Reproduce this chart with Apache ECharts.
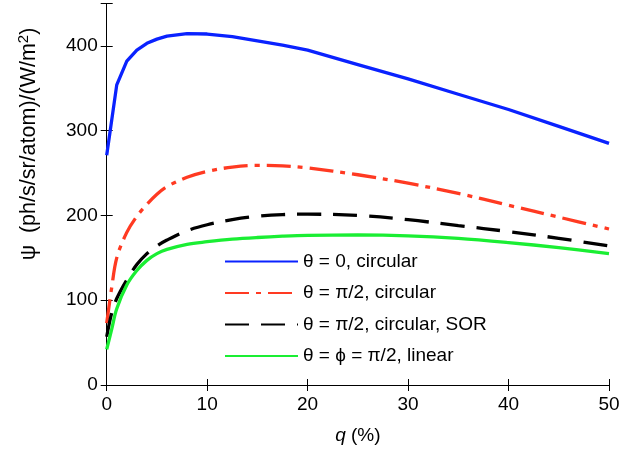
<!DOCTYPE html>
<html><head><meta charset="utf-8">
<script src="https://cdn.jsdelivr.net/npm/echarts@6/dist/echarts.min.js"></script>
<style>html,body{margin:0;padding:0;background:#fff}#c{width:642px;height:455px}</style>
</head><body><div id="c"></div>
<script>
const xTicks = [0, 10, 20, 30, 40, 50];
const yTicks = [0, 100, 200, 300, 400];
const seriesNames = ['θ = 0, circular', 'θ = π/2, circular', 'θ = π/2, circular, SOR', 'θ = ϕ = π/2, linear'];
const qBlue = [0, 1, 2, 3, 4, 5, 6, 8, 10, 12.5, 15, 17.5, 20, 25, 30, 35, 40, 45, 50];
const blueVals = [271, 354, 382, 395, 403, 408, 411.5, 414.5, 414, 411, 406, 401, 395, 378, 361, 343, 325, 305, 285];
const qOther = [0, 0.5, 1, 2, 3, 4, 5, 6, 8, 10, 12.5, 15, 17.5, 20, 25, 30, 35, 40, 45, 50];
const redVals = [73, 115, 150, 180, 199, 213, 225, 234, 245, 252, 257, 259, 258.5, 256, 248, 238, 226, 212, 198, 184];
const blackVals = [57, 85, 102, 124, 142, 155, 164, 171, 182, 189, 195, 199, 201, 201.5, 200, 195, 188, 181, 173, 164];
const greenVals = [42, 66, 90, 118, 135, 147, 155, 160, 166, 169, 172, 174, 175.5, 176.5, 177, 176, 173, 168, 162, 155];

const pair = (xs, ys) => xs.map((x, i) => [x, ys[i]]);
const font = 'Liberation Sans, Arial, Helvetica, sans-serif';
const chart = echarts.init(document.getElementById('c'));
const axisCommon = {
  axisLine: {show: true, lineStyle: {color: '#000', width: 1}},
  axisTick: {show: true, inside: true, length: 6, lineStyle: {color: '#000'}},
  splitLine: {show: false}
};
chart.setOption({
  animation: false,
  backgroundColor: '#fff',
  grid: {left: 106.7, right: 33, top: 3.5, bottom: 70},
  xAxis: [
    Object.assign({type: 'value', min: xTicks[0], max: xTicks[xTicks.length - 1], interval: 10, position: 'bottom',
      axisLabel: {color: '#000', fontSize: 19, fontFamily: font, margin: 10},
      name: '{i|q} (%)', nameLocation: 'middle', nameGap: 41,
      nameTextStyle: {color: '#000', fontSize: 19, fontFamily: font,
        rich: {i: {fontStyle: 'italic', fontSize: 19, fontFamily: font, color: '#000'}}}
    }, axisCommon),
    Object.assign({type: 'value', min: xTicks[0], max: xTicks[xTicks.length - 1], interval: 10, position: 'top',
      axisLabel: {show: false}}, axisCommon)
  ],
  yAxis: [
    Object.assign({type: 'value', min: yTicks[0], max: 450, interval: 100, position: 'left',
      axisLabel: {color: '#000', fontSize: 19, fontFamily: font, margin: 9,
        formatter: v => yTicks.includes(v) ? String(v) : ''}
    }, axisCommon),
    Object.assign({type: 'value', min: yTicks[0], max: 450, interval: 100, position: 'right',
      axisLabel: {show: false}}, axisCommon)
  ],
  legend: {
    show: true, orient: 'vertical', left: 219, top: 247,
    itemWidth: 73, itemHeight: 20, itemGap: 12.5,
    itemStyle: {opacity: 0},
    textStyle: {color: '#000', fontSize: 19, fontFamily: font},
    data: seriesNames
  },
  graphic: [{
    type: 'text', x: 29, y: 144, rotation: Math.PI / 2,
    style: {text: 'ψ  (ph/s/sr/atom)/(W/m{s|2})', fill: '#000', fontSize: 21.5, fontFamily: font,
      align: 'center', verticalAlign: 'middle',
      rich: {s: {fontSize: 15, fontFamily: font, fill: '#000', padding: [0, 0, 10, 0]}}}
  }],
  series: [
    {name: seriesNames[0], type: 'line', data: pair(qBlue, blueVals), symbol: 'none', smooth: false,
      lineStyle: {color: '#0a22ff', width: 3.3}, itemStyle: {color: '#0a22ff'}},
    {name: seriesNames[1], type: 'line', data: pair(qOther, redVals), symbol: 'none', smooth: 0.35,
      lineStyle: {color: '#ff3a22', width: 3.3, type: [24, 7, 5, 7]}, itemStyle: {color: '#ff3a22'}},
    {name: seriesNames[2], type: 'line', data: pair(qOther, blackVals), symbol: 'none', smooth: 0.35,
      lineStyle: {color: '#000', width: 3.3, type: [24, 12]}, itemStyle: {color: '#000'}},
    {name: seriesNames[3], type: 'line', data: pair(qOther, greenVals), symbol: 'none', smooth: 0.35,
      lineStyle: {color: '#1aee33', width: 3.3}, itemStyle: {color: '#1aee33'}}
  ]
});
</script></body></html>
